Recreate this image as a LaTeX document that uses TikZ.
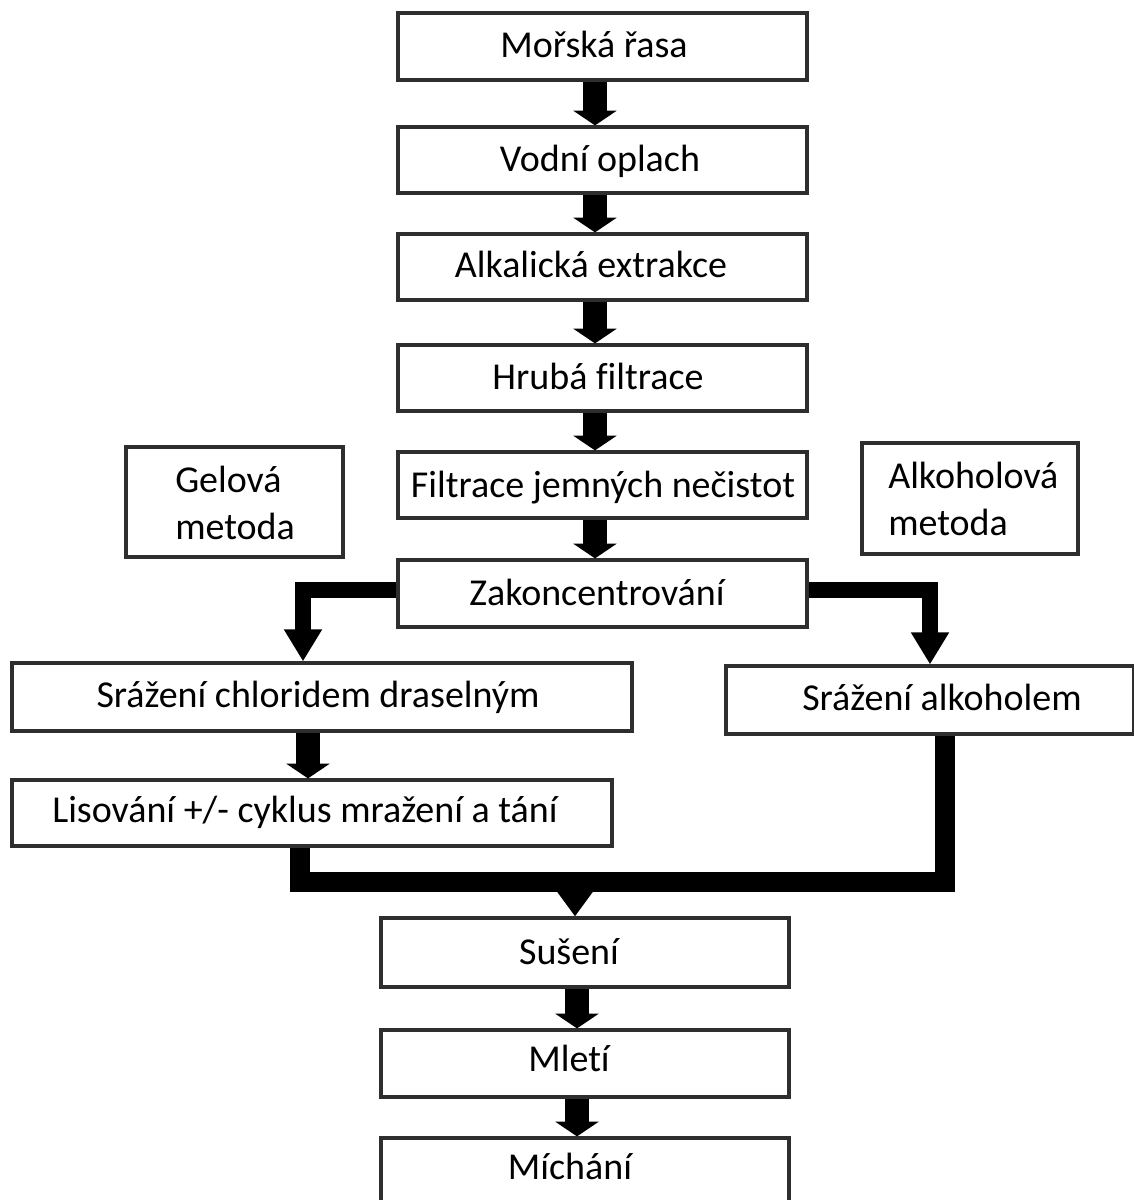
\documentclass[tikz,border=0pt]{standalone}
\usepackage{fontspec}
\setmainfont{Carlito}[Ligatures=NoCommon]
\usetikzlibrary{arrows.meta}
\begin{document}
\begin{tikzpicture}[x=0.75pt,y=-0.75pt,
  box/.style={draw=black!82, line width=2.4pt, fill=white, inner sep=0pt},
  lbl/.style={font=\fontsize{28.5}{35}\selectfont, inner sep=0pt, anchor=base},
  mlbl/.style={font=\fontsize{28.5}{35}\selectfont, inner sep=0pt, anchor=west, align=left},
  bigarrow/.style={line width=18pt, -{Triangle[width=32pt,length=11pt]}},
  brarrow/.style={line width=12pt, line join=miter, -{Triangle[width=27pt,length=24pt]}},
  merge/.style={line width=15pt, line join=miter},
  mergearrow/.style={line width=15pt, -{Triangle[width=27pt,length=19.5pt]}}
]
\useasboundingbox (0,0) rectangle (1134,1200);
% arrow columns
\coordinate (ca) at (595,0);
\coordinate (cl) at (303,0);
\coordinate (cs) at (308,0);
\coordinate (cb) at (577,0);
% boxes
\node[box, minimum width=306.75pt, minimum height=50.25pt] (m1) at (602.5,46.5) {};
\node[box, minimum width=306.75pt, minimum height=49.5pt] (m2) at (602.5,160) {};
\node[box, minimum width=306.75pt, minimum height=49.5pt] (m3) at (602.5,267) {};
\node[box, minimum width=306.75pt, minimum height=49.5pt] (m4) at (602.5,378) {};
\node[box, minimum width=306.75pt, minimum height=49.5pt] (m5) at (602.5,485) {};
\node[box, minimum width=306.75pt, minimum height=50.25pt] (m6) at (602.5,593.5) {};
\node[box, minimum width=162.75pt, minimum height=82.5pt] (gel) at (234.5,502) {};
\node[box, minimum width=162pt, minimum height=83.25pt] (alk) at (970,498.5) {};
\node[box, minimum width=465pt, minimum height=51pt] (s1) at (322,697) {};
\node[box, minimum width=306pt, minimum height=51pt] (s2) at (930,700) {};
\node[box, minimum width=450pt, minimum height=49.5pt] (l1) at (312,813) {};
\node[box, minimum width=306pt, minimum height=51.75pt] (su) at (585,952.5) {};
\node[box, minimum width=306pt, minimum height=50.25pt] (ml) at (585,1063.5) {};
\node[box, minimum width=306pt, minimum height=51pt] (mi) at (585,1172) {};
% main column arrows
\draw[bigarrow] (m1.south -| ca) -- (m2.north -| ca);
\draw[bigarrow] (m2.south -| ca) -- (m3.north -| ca);
\draw[bigarrow] (m3.south -| ca) -- (m4.north -| ca);
\draw[bigarrow] (m4.south -| ca) -- (m5.north -| ca);
\draw[bigarrow] (m5.south -| ca) -- (m6.north -| ca);
% branches
\draw[brarrow] ([yshift=2.6pt]m6.west) -| (s1.north -| cl);
\draw[brarrow] ([yshift=2.6pt]m6.east) -| (s2.north);
\draw[bigarrow] (s1.south -| cs) -- (l1.north -| cs);
% merge
\coordinate (bar) at (575,882);
\draw[merge] ([xshift=-9pt]l1.south) |- (bar) -| ([xshift=11.25pt]s2.south);
\draw[mergearrow] (bar) -- (bar |- su.north);
\draw[bigarrow] (su.south -| cb) -- (ml.north -| cb);
\draw[bigarrow] (ml.south -| cb) -- (mi.north -| cb);
% labels
\node[lbl] (t1) at (594,57) {Mořská řasa};
\node[lbl] (t2) at (600,171) {Vodní oplach};
\node[lbl] (t3) at (591,277) {Alkalická extrakce};
\node[lbl] (t4) at (598,389) {Hrubá filtrace};
\node[lbl] (t5) at (603,497) {Filtrace jemných nečistot};
\node[lbl] (t6) at (597,605) {Zakoncentrování};
\node[mlbl] (tg) at (175,503) {Gelová\\metoda};
\node[mlbl] (ta) at (888,499) {Alkoholová\\metoda};
\node[lbl] (ts1) at (318,707) {Srážení chloridem draselným};
\node[lbl] (ts2) at (942,710) {Srážení alkoholem};
\node[lbl] (tl1) at (305,822) {Lisování +/- cyklus mražení a tání};
\node[lbl] (tsu) at (569,964) {Sušení};
\node[lbl] (tml) at (569,1071) {Mletí};
\node[lbl] (tmi) at (570,1179) {Míchání};
\end{tikzpicture}
\end{document}
